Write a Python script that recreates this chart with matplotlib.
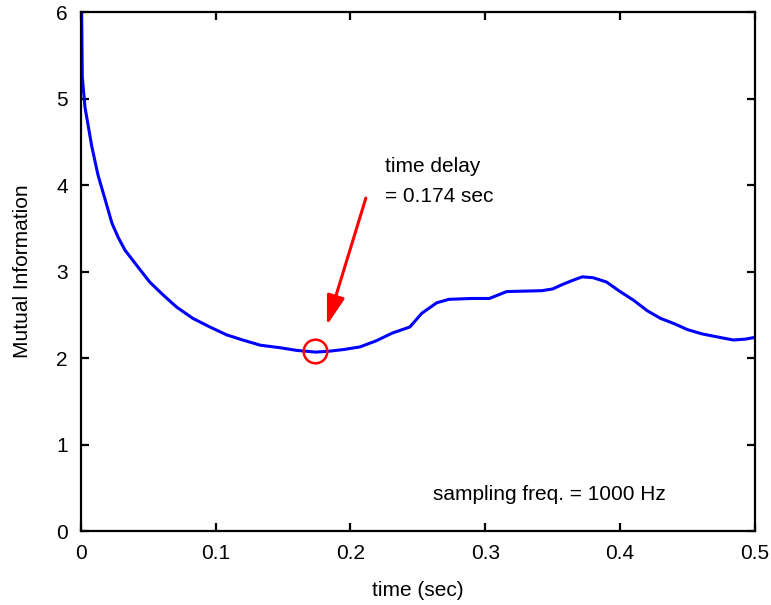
import numpy as np
import matplotlib.pyplot as plt

plt.rcParams['font.family'] = ['Liberation Sans', 'DejaVu Sans']

# mutual information vs. time lag
t = [0.0, 0.001, 0.003, 0.005, 0.008, 0.0126, 0.018, 0.023, 0.0275, 0.0326,
     0.040, 0.0475, 0.051, 0.061, 0.071, 0.083, 0.0957, 0.108, 0.120, 0.133,
     0.148, 0.160, 0.174, 0.184, 0.195, 0.207, 0.219, 0.231, 0.244, 0.253,
     0.264, 0.273, 0.290, 0.303, 0.316, 0.342, 0.350, 0.357, 0.365, 0.372,
     0.380, 0.390, 0.400, 0.410, 0.420, 0.430, 0.440, 0.450, 0.461, 0.474,
     0.484, 0.493, 0.500]
mi = [6.8, 5.25, 4.9, 4.72, 4.45, 4.12, 3.83, 3.56, 3.40, 3.25,
      3.10, 2.95, 2.88, 2.73, 2.59, 2.46, 2.36, 2.27, 2.21, 2.15,
      2.12, 2.09, 2.07, 2.08, 2.10, 2.13, 2.20, 2.29, 2.36, 2.52,
      2.64, 2.68, 2.69, 2.69, 2.77, 2.78, 2.80, 2.85, 2.90, 2.94,
      2.93, 2.88, 2.77, 2.67, 2.55, 2.46, 2.40, 2.33, 2.28, 2.24,
      2.21, 2.22, 2.24]

t_delay = 0.174
mi_delay = 2.08

fig = plt.figure(figsize=(7.71, 6.05), dpi=100)
ax = fig.add_axes([0.105, 0.122, 0.874, 0.858])

ax.plot(t, mi, color='#0000ff', lw=2.2)
ax.plot(t_delay, mi_delay, 'o', ms=17, mfc='none', mec='#ff0000', mew=1.8)

# arrow pointing at the chosen delay
ax.annotate('', xy=(0.1825, 2.38), xytext=(0.2114, 3.85),
            arrowprops=dict(arrowstyle='-|>,head_length=1.8,head_width=0.55',
                            color='#ff0000', lw=2.2, shrinkA=0, shrinkB=0))
ax.text(0.2255, 4.21, 'time delay', fontsize=15, va='center')
ax.text(0.2255, 3.87, '= 0.174 sec', fontsize=15, va='center')
ax.text(0.261, 0.42, 'sampling freq. = 1000 Hz', fontsize=15, va='center')

ax.set_xlim(0, 0.5)
ax.set_ylim(0, 6)
ax.set_xticks([0, 0.1, 0.2, 0.3, 0.4, 0.5])
ax.set_xticklabels(['0', '0.1', '0.2', '0.3', '0.4', '0.5'])
ax.set_yticks(range(7))
ax.tick_params(direction='in', length=6, width=1.6, labelsize=15,
               top=True, right=True, pad=9.5)
for s in ax.spines.values():
    s.set_linewidth(1.6)

ax.set_xlabel('time (sec)', fontsize=15, labelpad=13)
ax.set_ylabel('Mutual Information', fontsize=15, labelpad=17)

fig.savefig('out.png', dpi=100)
